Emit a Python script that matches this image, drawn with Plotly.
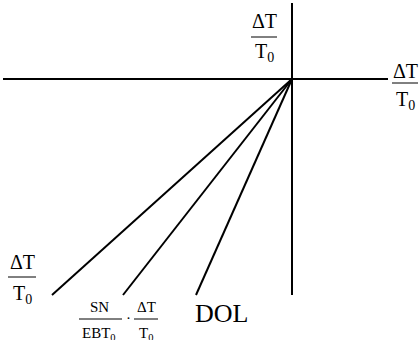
import plotly.graph_objects as go

# Origin-centred coordinates: x to the right, y upward
X_RANGE = [-292, 127]
Y_RANGE = [-261, 79]

# Coordinate axes (start/end points)
h_axis_x = [-289, 96]
h_axis_y = [0, 0]
v_axis_x = [0, 0]
v_axis_y = [-216, 76]

# Rays leaving the origin, one per labelled relation
ray_names = ["dT/T0", "SN/EBT0 * dT/T0", "DOL"]
ray_end_x = [-240, -169, -96]
ray_end_y = [-216, -216, -216]

FONT = "Times New Roman, Liberation Serif, DejaVu Serif, serif"
INK = "#000000"

fig = go.Figure()

fig.add_trace(go.Scatter(x=h_axis_x, y=h_axis_y, mode="lines",
                         line=dict(color=INK, width=2), hoverinfo="skip"))
fig.add_trace(go.Scatter(x=v_axis_x, y=v_axis_y, mode="lines",
                         line=dict(color=INK, width=2), hoverinfo="skip"))
for name, ex, ey in zip(ray_names, ray_end_x, ray_end_y):
    fig.add_trace(go.Scatter(x=[0, ex], y=[0, ey], mode="lines", name=name,
                             line=dict(color=INK, width=2), hoverinfo="skip"))


def px(x):
    return x + X_RANGE[0]


def py(y):
    return Y_RANGE[1] - y


def text(x, y, s, size):
    fig.add_annotation(x=px(x), y=py(y), text=s, showarrow=False,
                       xanchor="center", yanchor="middle",
                       font=dict(family=FONT, size=size, color=INK))


def fraction(cx, num, den, y_num, y_bar, y_den, x0, x1, size):
    text(cx, y_num, num, size)
    fig.add_shape(type="line", x0=px(x0), x1=px(x1), y0=py(y_bar), y1=py(y_bar),
                  line=dict(color=INK, width=1))
    text(cx, y_den, den, size)


T0 = "T<sub>0</sub>"
DT = "\u0394T"

# vertical-axis label
fraction(264, DT, T0, 21, 37, 52, 251, 277, 20)
# horizontal-axis label
fraction(405, DT, T0, 71, 83, 100, 392, 418, 20)
# first ray label
fraction(22, DT, T0, 262, 277, 294, 8, 36, 20)
# second ray label: SN/EBT0 · ΔT/T0
fraction(99, "SN", "EBT<sub>0</sub>", 307, 319, 334, 79, 122, 15)
text(128, 318, "\u00b7", 15)
fraction(146, DT, T0, 307, 319, 334, 134, 158, 15)
# third ray label
text(221, 313, "DOL", 26)

fig.update_xaxes(range=X_RANGE, visible=False, fixedrange=True)
fig.update_yaxes(range=Y_RANGE, visible=False, fixedrange=True)
fig.update_layout(width=419, height=340, autosize=False,
                  margin=dict(l=0, r=0, t=0, b=0),
                  font=dict(family=FONT, color=INK),
                  paper_bgcolor="white", plot_bgcolor="white",
                  showlegend=False)

fig.write_html("out.html")
